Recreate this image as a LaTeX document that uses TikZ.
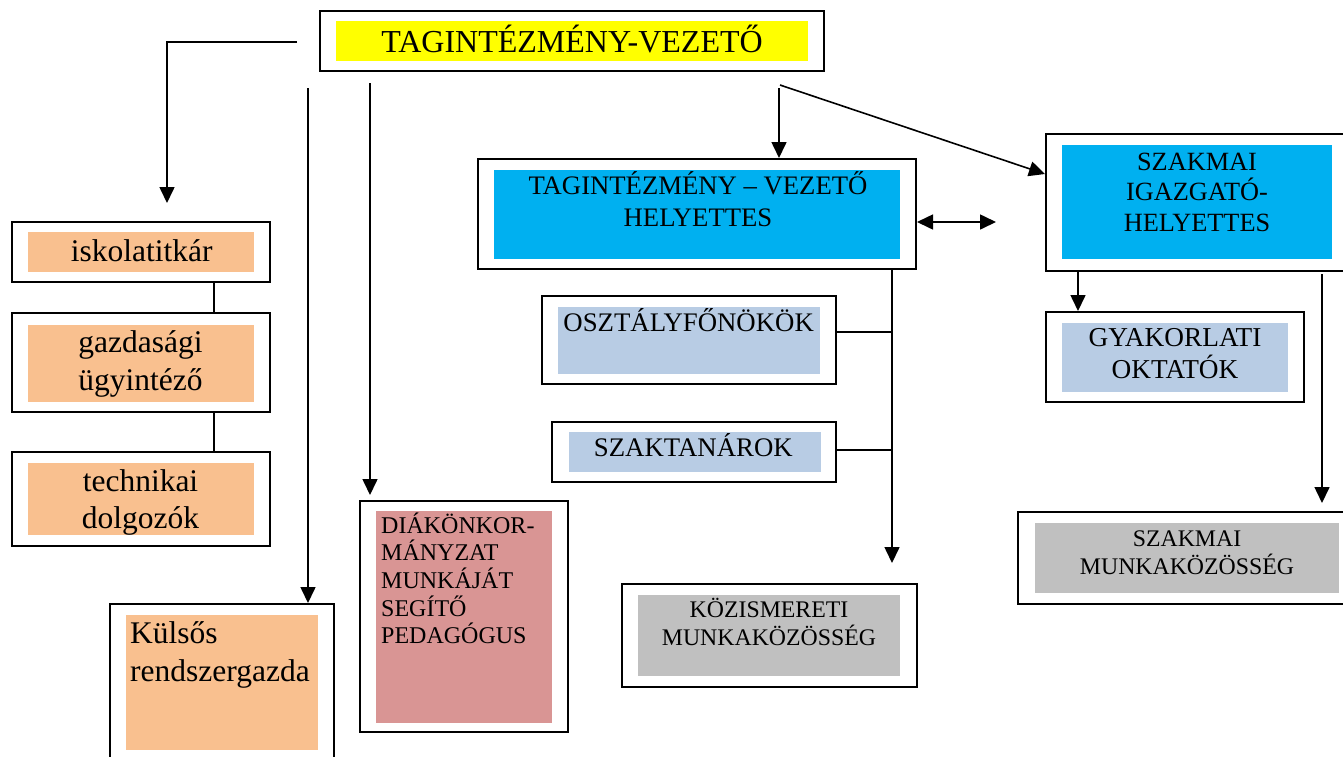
\documentclass[tikz,border=0pt]{standalone}
\usepackage{fontspec}
\setmainfont{Liberation Serif}
\usetikzlibrary{arrows.meta,calc}
\definecolor{cYellow}{HTML}{FFFF00}
\definecolor{cBlue}{HTML}{00B0F0}
\definecolor{cLight}{HTML}{B8CCE4}
\definecolor{cOrange}{HTML}{F9C08F}
\definecolor{cPink}{HTML}{D99594}
\definecolor{cGray}{HTML}{C0C0C0}
\begin{document}
\begin{tikzpicture}[x=1pt,y=-1pt,
  outer/.style={draw, line width=2pt, inner sep=0pt, fill=white},
  fillbox/.style={inner sep=0pt},
  lbl/.style={inner sep=0pt, align=center, anchor=base},
  lblL/.style={inner sep=0pt, align=left, anchor=base west},
  fa/.style={font=\fontsize{32}{38}\selectfont},
  fb/.style={font=\fontsize{26.8}{31}\selectfont},
  fc/.style={font=\fontsize{31.5}{37.5}\selectfont},
  fd/.style={font=\fontsize{23.8}{28}\selectfont},
  conn/.style={line width=1.6pt},
  arr/.style={conn, -{Triangle[length=16pt,width=15pt]}},
  darr/.style={conn, {Triangle[length=16pt,width=15pt]}-{Triangle[length=16pt,width=15pt]}},
]
\clip (0,0) rectangle (1343,756);
\fill[white] (0,0) rectangle (1343,756);

% ---- boxes (multi-line labels are placed by the baseline of their last line) ----
\node[outer, minimum width=504pt, minimum height=60pt] (top) at (572,41) {};
\node[fillbox, fill=cYellow, minimum width=472pt, minimum height=40pt] (topF) at (572,41) {};
\node[lbl, fa] (topT) at (572,52) {TAGINTÉZMÉNY-VEZETŐ};

\node[outer, minimum width=438pt, minimum height=110pt] (tvh) at (697,214) {};
\node[fillbox, fill=cBlue, minimum width=406pt, minimum height=89pt] (tvhF) at (697,214.5) {};
\node[lbl, font=\fontsize{26.7}{32}\selectfont] (tvhT) at (698,226.3) {TAGINTÉZMÉNY – VEZETŐ\\HELYETTES};

\node[outer, minimum width=304pt, minimum height=137pt] (szig) at (1198,202.5) {};
\node[fillbox, fill=cBlue, minimum width=270pt, minimum height=114pt] (szigF) at (1197,202) {};
\node[lbl, font=\fontsize{26.3}{30.5}\selectfont] (szigT) at (1197,231) {SZAKMAI\\IGAZGATÓ-\\HELYETTES};

\node[outer, minimum width=258pt, minimum height=60pt] (isk) at (141,252) {};
\node[fillbox, fill=cOrange, minimum width=226pt, minimum height=40pt] (iskF) at (141,252) {};
\node[lbl, fc] (iskT) at (141.7,261.7) {iskolatitkár};

\node[outer, minimum width=258pt, minimum height=99pt] (gaz) at (141,362.5) {};
\node[fillbox, fill=cOrange, minimum width=226pt, minimum height=77pt] (gazF) at (141,363.5) {};
\node[lbl, fc] (gazT) at (140.5,390) {gazdasági\\ügyintéző};

\node[outer, minimum width=258pt, minimum height=94pt] (tech) at (141,499) {};
\node[fillbox, fill=cOrange, minimum width=226pt, minimum height=72pt] (techF) at (141,499) {};
\node[lbl, font=\fontsize{31.5}{36.6}\selectfont] (techT) at (140.5,528.3) {technikai\\dolgozók};

\node[outer, minimum width=224pt, minimum height=176pt] (kul) at (222,692) {};
\node[fillbox, fill=cOrange, minimum width=192pt, minimum height=135pt] (kulF) at (222,682.5) {};
\node[lblL, font=\fontsize{31.5}{38.5}\selectfont] (kulT) at (130,681.5) {Külsős\\rendszergazda};

\node[outer, minimum width=208pt, minimum height=231pt] (diak) at (464,616.5) {};
\node[fillbox, fill=cPink, minimum width=176pt, minimum height=212pt] (diakF) at (464,617) {};
\node[lblL, font=\fontsize{24}{27.7}\selectfont] (diakT) at (381,643.8) {DIÁKÖNKOR-\\MÁNYZAT\\MUNKÁJÁT\\SEGÍTŐ\\PEDAGÓGUS};

\node[outer, minimum width=294pt, minimum height=88pt] (osz) at (689,340) {};
\node[fillbox, fill=cLight, minimum width=262pt, minimum height=67pt] (oszF) at (689,340.5) {};
\node[lbl, fb] (oszT) at (688.7,331.7) {OSZTÁLYFŐNÖKÖK};

\node[outer, minimum width=284pt, minimum height=60pt] (szt) at (694,452) {};
\node[fillbox, fill=cLight, minimum width=252pt, minimum height=40pt] (sztF) at (695,452) {};
\node[lbl, fb] (sztT) at (693.3,456.7) {SZAKTANÁROK};

\node[outer, minimum width=295pt, minimum height=103pt] (koz) at (769.5,635.5) {};
\node[fillbox, fill=cGray, minimum width=262pt, minimum height=81pt] (kozF) at (769,635.5) {};
\node[lbl, fd] (kozT) at (769,645.5) {KÖZISMERETI\\MUNKAKÖZÖSSÉG};

\node[outer, minimum width=258pt, minimum height=90pt] (gyak) at (1175,357) {};
\node[fillbox, fill=cLight, minimum width=226pt, minimum height=69pt] (gyakF) at (1175,357.5) {};
\node[lbl, font=\fontsize{27.3}{31.7}\selectfont] (gyakT) at (1175,378.4) {GYAKORLATI\\OKTATÓK};

\node[outer, minimum width=332pt, minimum height=92pt] (szm) at (1184,558) {};
\node[fillbox, fill=cGray, minimum width=304pt, minimum height=70pt] (szmF) at (1187,558) {};
\node[lbl, fd] (szmT) at (1187,574) {SZAKMAI\\MUNKAKÖZÖSSÉG};

% ---- connector end points ----
\coordinate (l1s) at (297,42);
\coordinate (l1e) at (167,203);
\coordinate (l2s) at (308,88);
\coordinate (l3s) at (370,83);
\coordinate (l3e) at (370,495);
\coordinate (l4s) at (779,88);
\coordinate (l5s) at (780,85);
\coordinate (dae) at (996,222);
\coordinate (kze) at (892,563);
\coordinate (r2s) at (1322,274);
\coordinate (r2e) at (1322,503);

% ---- connectors ----
\draw[arr] (l1s) -| (l1e);
\draw[arr] (l2s) -- (l2s |- kul.north);
\draw[arr] (l3s) -- (l3e);
\draw[arr] (l4s) -- (l4s |- tvh.north);
\draw[arr] (l5s) -- ([yshift=-41pt]szig.north west);
\draw[darr] ([yshift=-8pt]tvh.east) -- (dae);
\draw[arr] (kze |- tvh.south) -- (kze);
\draw[conn] ([yshift=8pt]osz.east) -- ([yshift=8pt]osz.east -| kze);
\draw[conn] ([yshift=2pt]szt.east) -- ([yshift=2pt]szt.east -| kze);
\draw[arr] (1078,0 |- szig.south) -- (1078,0 |- gyak.north);
\draw[arr] (r2s) -- (r2e);
\draw[conn] (214,0 |- isk.south) -- (214,0 |- gaz.north);
\draw[conn] (214,0 |- gaz.south) -- (214,0 |- tech.north);
\end{tikzpicture}
\end{document}
